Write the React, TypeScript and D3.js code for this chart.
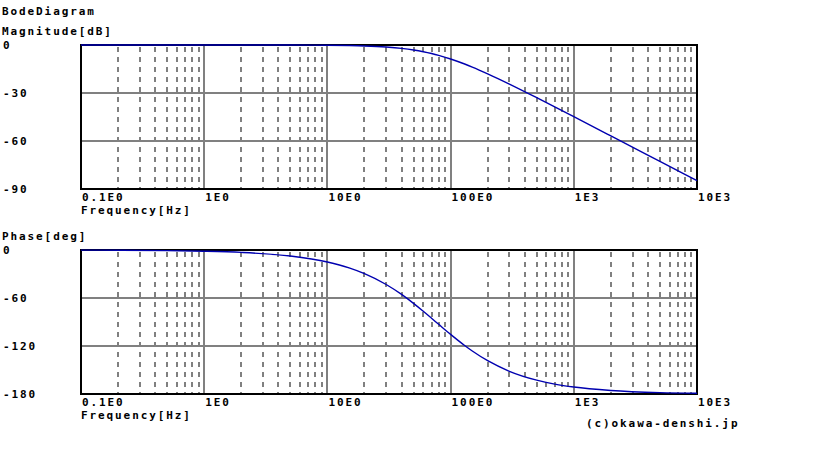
import React from "react";
import * as d3 from "d3";

const freqs = [0.1, 0.2, 0.5, 1, 2, 5, 10, 15, 20, 30, 40, 50, 60, 70, 80, 100, 130, 150, 200, 300, 500, 700, 1000, 2000, 5000, 10000];
// Magnitude [dB]
const magnitude = [0, 0, 0, -0.001, -0.006, -0.04, -0.15, -0.33, -0.58, -1.26, -2.12, -3.12, -4.21, -5.34, -6.48, -8.73, -11.88, -13.79, -17.98, -24.39, -32.92, -38.67, -44.82, -56.82, -72.73, -84.77];
// Phase [deg]
const phase = [-0.15, -0.3, -0.75, -1.51, -3.01, -7.53, -15.0, -22.3, -29.5, -43.1, -55.5, -66.7, -76.6, -85.3, -92.9, -105.5, -119.4, -126.3, -138.4, -151.6, -162.7, -167.6, -171.3, -175.6, -178.3, -179.1];

const xTickValues = [0.1, 1, 10, 100, 1000, 10000];
const xTickLabels = ["0.1E0", "1E0", "10E0", "100E0", "1E3", "10E3"];
const magTicks = [0, -30, -60, -90];
const phaseTicks = [0, -60, -120, -180];

const FONT: React.CSSProperties = {
  fontFamily: "'DejaVu Sans Mono', monospace",
  fontWeight: "bold",
  fontSize: "11px",
  letterSpacing: "1.9px",
};

const X0 = 81;
const X1 = 697;
const PH = 144;

function Panel({ top, title, ticks, domainMin, values }: { top: number; title: string; ticks: number[]; domainMin: number; values: number[] }) {
  const x = d3.scaleLog().domain([0.1, 10000]).range([X0, X1]);
  const y = d3.scaleLinear().domain([0, domainMin]).range([top, top + PH]);
  const minor: number[] = [];
  for (let d = 0.1; d < 10000; d *= 10) {
    for (let k = 2; k <= 9; k++) minor.push(+(d * k).toPrecision(3));
  }
  const line = d3
    .line<number>()
    .x((_, i) => x(freqs[i]))
    .y((v) => y(v))
    .curve(d3.curveMonotoneX);
  const bottom = top + PH;
  return (
    <g>
      <text x={2} y={top - 10} style={FONT}>{title}</text>
      {minor.map((m, i) => (
        <line key={"m" + i} x1={x(m)} x2={x(m)} y1={top} y2={bottom} stroke="#808080" strokeWidth={2} strokeDasharray="5,5" strokeDashoffset={-2} shapeRendering="crispEdges" />
      ))}
      {xTickValues.slice(1, -1).map((v, i) => (
        <line key={"v" + i} x1={x(v)} x2={x(v)} y1={top} y2={bottom} stroke="#808080" strokeWidth={2} shapeRendering="crispEdges" />
      ))}
      {ticks.slice(1, -1).map((t, i) => (
        <line key={"h" + i} x1={X0} x2={X1} y1={y(t)} y2={y(t)} stroke="#808080" strokeWidth={2} shapeRendering="crispEdges" />
      ))}
      <rect x={X0} y={top} width={X1 - X0} height={PH} fill="none" stroke="#000" strokeWidth={2} shapeRendering="crispEdges" />
      <path d={line(values) || ""} fill="none" stroke="#0000b0" strokeWidth={1.4} />
      {ticks.map((t, i) => (
        <text key={"yt" + i} x={3} y={y(t) + 4} style={FONT}>{String(t)}</text>
      ))}
      {xTickValues.map((v, i) => (
        <text key={"xt" + i} x={x(v) + 1} y={bottom + 12} style={FONT}>{xTickLabels[i]}</text>
      ))}
      <text x={X0} y={bottom + 25} style={FONT}>Frequency[Hz]</text>
    </g>
  );
}

export default function App() {
  return (
    <svg width={819} height={460} style={{ position: "absolute", left: 0, top: 0, background: "#fff" }}>
      <rect width={819} height={460} fill="#fff" />
      <text x={2} y={15} style={FONT}>BodeDiagram</text>
      <Panel top={45} title="Magnitude[dB]" ticks={magTicks} domainMin={-90} values={magnitude} />
      <Panel top={250} title="Phase[deg]" ticks={phaseTicks} domainMin={-180} values={phase} />
      <text x={586} y={427} style={FONT}>(c)okawa-denshi.jp</text>
    </svg>
  );
}
